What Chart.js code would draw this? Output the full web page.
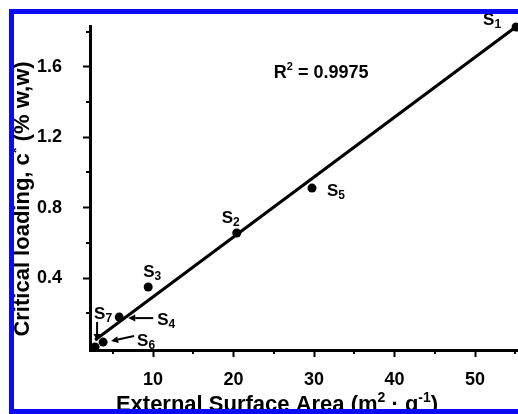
<!DOCTYPE html>
<html>
<head>
<meta charset="utf-8">
<script src="https://cdn.jsdelivr.net/npm/chart.js@4.4.1/dist/chart.umd.min.js"></script>
<style>
  body { margin: 0; background: #fff; }
  canvas { display: block; }
</style>
</head>
<body>
<canvas id="myChart" width="518" height="414"></canvas>
<script>
// datos
const sampleNames = ["S1", "S2", "S3", "S4", "S5", "S6", "S7"];
const surfaceArea = [55.1, 20.4, 9.4, 5.8, 29.75, 3.8, 2.8];
const criticalLoading = [1.826, 0.656, 0.349, 0.178, 0.911, 0.036, 0.008];

// recta de ajuste
const fitX = [2.8, 55.34];
const fitY = [0.048, 1.836];
const rSquared = "0.9975";

const xTicks = [5, 10, 15, 20, 25, 30, 35, 40, 45, 50, 55];
const yTicks = [0.2, 0.4, 0.6, 0.8, 1.0, 1.2, 1.4, 1.6, 1.8];

const FONT = '"Liberation Sans", Arial, Helvetica, sans-serif';
const BLUE = "#0b0bf6";

// posicion de cada etiqueta respecto a su punto (px)
const labelOffsets = {
  S1: [-33, -2], S2: [-15, -10], S3: [-5, -10], S4: [38, 8],
  S5: [15, 8], S6: [34, 4], S7: [-1, -28]
};
const arrowOffsets = {
  S4: [34, 1, 9, 1],
  S6: [31, -6, 8, -1],
  S7: [2, -25, 2, -6]
};

function isMajorX(v) { return Math.abs(v % 10) < 1e-6; }
function isMajorY(v) { return Math.abs((v * 10) % 4) < 1e-6 || Math.abs((v * 10) % 4 - 4) < 1e-6; }

// sin relleno automatico en los bordes del area
function noPad(s) {
  s.paddingLeft = 0;
  s.paddingRight = 0;
  s.paddingTop = 0;
  s.paddingBottom = 0;
}

// dibuja texto con partes en super/subindice
function drawRuns(ctx, runs, x, y, align) {
  let total = 0;
  runs.forEach(r => {
    ctx.font = "bold " + r.size + "px " + FONT;
    r.w = ctx.measureText(r.t).width;
    total += r.w;
  });
  let cx = x;
  if (align === "center") cx = x - total / 2;
  ctx.textAlign = "left";
  ctx.textBaseline = "alphabetic";
  runs.forEach(r => {
    ctx.font = "bold " + r.size + "px " + FONT;
    ctx.fillText(r.t, cx, y + (r.dy || 0));
    cx += r.w;
  });
}

function arrow(ctx, x1, y1, x2, y2) {
  const a = Math.atan2(y2 - y1, x2 - x1);
  const hl = 7, hw = 3.5;
  const bx = x2 - hl * Math.cos(a), by = y2 - hl * Math.sin(a);
  ctx.beginPath();
  ctx.moveTo(x1, y1);
  ctx.lineTo(bx, by);
  ctx.lineWidth = 2;
  ctx.stroke();
  ctx.beginPath();
  ctx.moveTo(x2, y2);
  ctx.lineTo(bx + hw * Math.sin(a), by - hw * Math.cos(a));
  ctx.lineTo(bx - hw * Math.sin(a), by + hw * Math.cos(a));
  ctx.closePath();
  ctx.fill();
}

const extras = {
  id: "extras",
  afterDraw(chart) {
    const ctx = chart.ctx;
    const xs = chart.scales.x, ys = chart.scales.y;
    const area = chart.chartArea;
    ctx.save();
    ctx.fillStyle = "#000";
    ctx.strokeStyle = "#000";

    // ticks menores
    ctx.lineWidth = 2;
    xTicks.filter(v => !isMajorX(v)).forEach(v => {
      const px = Math.round(xs.getPixelForValue(v));
      ctx.beginPath();
      ctx.moveTo(px, area.bottom);
      ctx.lineTo(px, area.bottom + 4);
      ctx.stroke();
    });
    yTicks.filter(v => !isMajorY(v)).forEach(v => {
      const py = Math.round(ys.getPixelForValue(v));
      ctx.beginPath();
      ctx.moveTo(area.left, py);
      ctx.lineTo(area.left - 4, py);
      ctx.stroke();
    });

    // etiquetas de muestras
    sampleNames.forEach((name, i) => {
      const px = xs.getPixelForValue(surfaceArea[i]);
      const py = ys.getPixelForValue(criticalLoading[i]);
      const off = labelOffsets[name];
      drawRuns(ctx, [
        { t: name[0], size: 17 },
        { t: name.slice(1), size: 12, dy: 3 }
      ], px + off[0], py + off[1], "left");
      const ar = arrowOffsets[name];
      if (ar) arrow(ctx, px + ar[0], py + ar[1], px + ar[2], py + ar[3]);
    });

    // R^2
    drawRuns(ctx, [
      { t: "R", size: 18 },
      { t: "2", size: 11, dy: -8 },
      { t: " = " + rSquared, size: 18 }
    ], xs.getPixelForValue(25), ys.getPixelForValue(1.536), "left");

    // titulos de ejes
    drawRuns(ctx, [
      { t: "External Surface Area (m", size: 22 },
      { t: "2", size: 14, dy: -9 },
      { t: " \u00b7 g", size: 22 },
      { t: "-1", size: 14, dy: -9 },
      { t: ")", size: 22 }
    ], 277, 411, "center");

    ctx.save();
    ctx.translate(29, 199);
    ctx.rotate(-Math.PI / 2);
    drawRuns(ctx, [
      { t: "Critical loading, c", size: 22 },
      { t: "*", size: 15, dy: -8 },
      { t: " (% w,w)", size: 22 }
    ], 0, 0, "center");
    ctx.restore();

    // marco azul
    ctx.fillStyle = BLUE;
    ctx.fillRect(9, 9, 509, 5);
    ctx.fillRect(9, 9, 5, 405);
    ctx.fillRect(9, 409, 509, 5);
    ctx.restore();
  }
};

const config = {
  type: "scatter",
  data: {
    datasets: [
      {
        label: "fit",
        data: fitX.map((x, i) => ({ x: x, y: fitY[i] })),
        showLine: true,
        borderColor: "#000",
        borderWidth: 3,
        pointRadius: 0,
        clip: false
      },
      {
        label: "samples",
        data: surfaceArea.map((x, i) => ({ x: x, y: criticalLoading[i] })),
        backgroundColor: "#000",
        borderWidth: 0,
        pointRadius: 4.5,
        clip: false
      }
    ]
  },
  options: {
    responsive: false,
    animation: false,
    layout: { autoPadding: false, padding: { left: 10, top: 26, right: 0, bottom: 0 } },
    plugins: { legend: { display: false }, tooltip: { enabled: false } },
    scales: {
      x: {
        type: "linear",
        min: 2.17,
        max: 55.34,
        border: { color: "#000", width: 3 },
        grid: {
          drawOnChartArea: false,
          tickLength: 7,
          tickWidth: 2,
          tickColor: c => (c.tick && isMajorX(c.tick.value)) ? "#000" : "rgba(0,0,0,0)"
        },
        afterBuildTicks: s => { s.ticks = xTicks.map(v => ({ value: v })); },
        afterFit: s => { s.height = 64; noPad(s); },
        ticks: {
          padding: 12,
          color: "#000",
          font: { size: 18, weight: "bold" },
          callback: v => isMajorX(v) ? String(v) : ""
        }
      },
      y: {
        type: "linear",
        min: -0.009,
        max: 1.832,
        border: { color: "#000", width: 3 },
        grid: {
          drawOnChartArea: false,
          tickLength: 7,
          tickWidth: 2,
          tickColor: c => (c.tick && isMajorY(c.tick.value)) ? "#000" : "rgba(0,0,0,0)"
        },
        afterBuildTicks: s => { s.ticks = yTicks.map(v => ({ value: v })); },
        afterFit: s => { s.width = 80; noPad(s); },
        ticks: {
          padding: 21,
          color: "#000",
          font: { size: 18, weight: "bold" },
          callback: v => isMajorY(v) ? v.toFixed(1) : ""
        }
      }
    }
  },
  plugins: [extras]
};

Chart.defaults.font.family = FONT;
const chart = new Chart(document.getElementById("myChart"), config);
</script>
</body>
</html>
